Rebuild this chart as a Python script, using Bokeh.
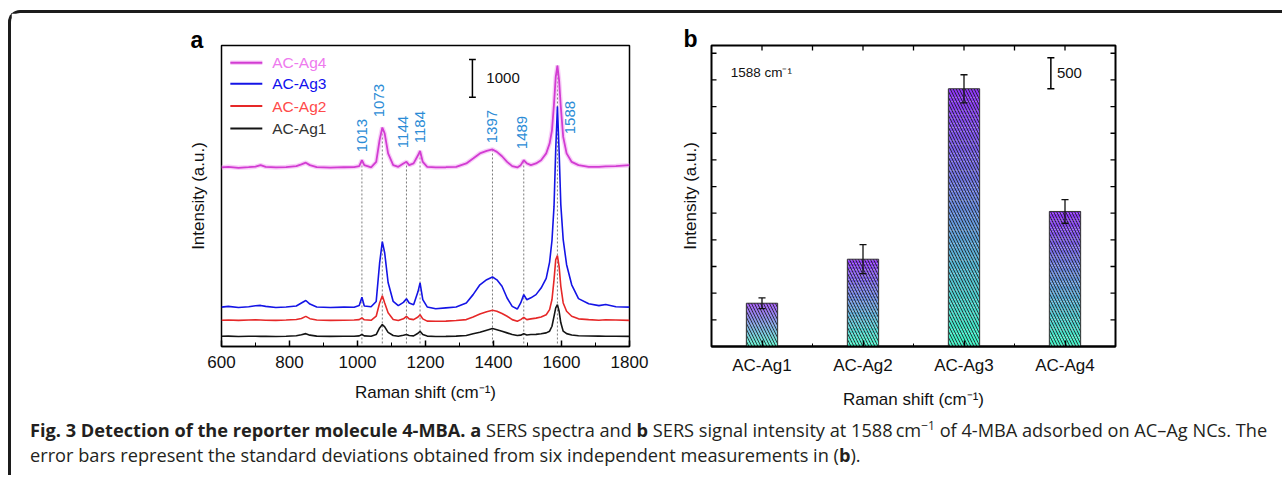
import numpy as np
from bokeh.plotting import figure
from bokeh.models import Range1d, FixedTicker, Div
from bokeh.layouts import row, column
from bokeh.embed import file_html
from bokeh.resources import INLINE
from bokeh.core.properties import value

# ---------------- data: panel a (SERS spectra, stacked as plotted) ----------------
raman_shift = [600, 620, 650, 680, 700, 715, 730, 760, 790, 820, 835, 848, 860, 880, 920,
               960, 990, 1005, 1013, 1020, 1040, 1055, 1065, 1073, 1080, 1090, 1105, 1120,
               1135, 1144, 1152, 1165, 1178, 1184, 1192, 1205, 1230, 1260, 1290, 1320, 1340,
               1360, 1380, 1397, 1410, 1425, 1440, 1455, 1470, 1480, 1489, 1498, 1510, 1525,
               1540, 1555, 1565, 1572, 1578, 1583, 1588, 1593, 1598, 1605, 1615, 1630, 1650,
               1680, 1710, 1730, 1760, 1800]

ac_ag1 = [270, 275, 265, 270, 272, 268, 270, 265, 270, 285, 310, 340, 300, 275, 268,
          270, 272, 280, 315, 280, 272, 315, 490, 580, 520, 375, 290, 272,
          295, 315, 290, 280, 350, 400, 315, 275, 265, 268, 275, 290, 335,
          375, 430, 475, 445, 405, 360, 315, 290, 300, 335, 305, 315, 320,
          335, 360, 405, 535, 795, 1020, 1105, 930, 625, 405, 340, 305, 285,
          278, 275, 272, 270, 268]

ac_ag2 = [695, 700, 690, 700, 705, 700, 695, 690, 700, 715, 740, 795, 735, 700, 690,
          695, 700, 710, 755, 705, 692, 800, 1150, 1340, 1150, 890, 715, 685,
          730, 795, 730, 710, 780, 840, 730, 670, 665, 670, 685, 710, 780,
          860, 920, 955, 930, 870, 800, 710, 665, 710, 770, 710, 730, 750,
          780, 840, 975, 1240, 1760, 2290, 2400, 2110, 1590, 1150, 930, 800, 730,
          710, 695, 705, 700, 690]

ac_ag3 = [1040, 1060, 1030, 1050, 1075, 1085, 1060, 1030, 1045, 1070, 1150, 1215, 1120, 1045, 1030,
          1040, 1035, 1080, 1300, 1070, 1050, 1190, 2200, 2770, 2470, 1690, 1190, 1080,
          1165, 1260, 1150, 1105, 1450, 1680, 1240, 1045, 995, 1020, 1045, 1150, 1370,
          1630, 1765, 1835, 1760, 1590, 1280, 1060, 990, 1150, 1370, 1235, 1285, 1370,
          1545, 1800, 2230, 2800, 3700, 5200, 6340, 5150, 3740, 2820, 2160, 1630, 1265,
          1130, 1080, 1110, 1050, 1040]

ac_ag4 = [4730, 4745, 4720, 4735, 4750, 4790, 4745, 4730, 4740, 4765, 4810, 4855, 4790, 4740, 4725,
          4735, 4740, 4765, 4920, 4790, 4730, 4875, 5450, 5785, 5625, 5100, 4790, 4745,
          4835, 4880, 4790, 4835, 5050, 5165, 4875, 4745, 4730, 4735, 4745, 4835, 4965,
          5100, 5165, 5205, 5140, 5025, 4875, 4765, 4730, 4790, 4920, 4835, 4790, 4835,
          4920, 5100, 5360, 5710, 6415, 7115, 7420, 7025, 6325, 5535, 5100, 4875, 4790,
          4745, 4745, 4755, 4765, 4790]

series_names = ["AC-Ag4", "AC-Ag3", "AC-Ag2", "AC-Ag1"]
peak_positions = [1013, 1073, 1144, 1184, 1397, 1489, 1588]
peak_labels = ["1013", "1073", "1144", "1184", "1397", "1489", "1588"]
scale_a = 1000

# ---------------- data: panel b (intensity at 1588 cm-1) ----------------
samples = ["AC-Ag1", "AC-Ag2", "AC-Ag3", "AC-Ag4"]
intensity_1588 = [698, 1408, 4157, 2178]
intensity_sd = [86, 234, 226, 190]
scale_b = 500

# ---------------- styles ----------------
FONT = "Liberation Sans"
line_colors = {"AC-Ag4": "#d23cd2", "AC-Ag3": "#1414e6", "AC-Ag2": "#e62828", "AC-Ag1": "#141414"}
text_colors = {"AC-Ag4": "#ee7aee", "AC-Ag3": "#1010ee", "AC-Ag2": "#ff4a4a", "AC-Ag1": "#333333"}
peak_color = "#2b8cd6"
SUP = "Raman shift (cm\u207b\u00b9)"


def style_title(p, letter, offset, standoff):
    p.title.text = letter
    p.title.align = "left"
    p.title.offset = offset
    p.title.text_font = FONT
    p.title.text_font_size = "23px"
    p.title.text_font_style = "bold"
    p.title.text_color = "black"
    p.title.standoff = standoff


# ======================= panel a =======================
pa = figure(width=650, height=400, x_range=Range1d(600, 1800), y_range=Range1d(0, 7950),
            output_backend="svg", toolbar_location=None,
            min_border_left=210, min_border_right=32, min_border_top=32, min_border_bottom=66)
pa.grid.visible = False
pa.outline_line_color = "black"
pa.outline_line_width = 1.5
pa.outline_line_alpha = 1.0
style_title(pa, "a", -31, -14)

xa = pa.xaxis[0]
xa.ticker = FixedTicker(ticks=list(range(600, 1801, 200)), minor_ticks=list(range(700, 1800, 200)))
xa.major_tick_in = 6
xa.major_tick_out = 0
xa.minor_tick_in = 4
xa.minor_tick_out = 0
xa.axis_line_width = 1.5
xa.major_tick_line_width = 1.5
xa.major_label_text_font = FONT
xa.major_label_text_font_size = "17px"
xa.major_label_text_color = "#111111"
xa.major_label_standoff = 9
xa.axis_label = SUP
xa.axis_label_text_font = FONT
xa.axis_label_text_font_size = "17px"
xa.axis_label_text_font_style = "normal"
xa.axis_label_text_color = "#111111"
xa.axis_label_standoff = 12

ya = pa.yaxis[0]
ya.ticker = FixedTicker(ticks=[])
ya.axis_line_color = None
ya.major_tick_line_color = None
ya.minor_tick_line_color = None
ya.axis_label = "Intensity (a.u.)"
ya.axis_label_text_font = FONT
ya.axis_label_text_font_size = "17px"
ya.axis_label_text_font_style = "normal"
ya.axis_label_text_color = "#111111"
ya.axis_label_standoff = 14

# vertical dotted guide lines up to the AC-Ag4 peaks
guide_tops = [ac_ag4[raman_shift.index(p)] for p in peak_positions]
pa.segment(x0=peak_positions, y0=[80] * len(peak_positions), x1=peak_positions, y1=guide_tops,
           line_color="#7a7a7a", line_width=1, line_dash="2 2")

series = {"AC-Ag4": ac_ag4, "AC-Ag3": ac_ag3, "AC-Ag2": ac_ag2, "AC-Ag1": ac_ag1}
# soft pink halo under the AC-Ag4 trace
pa.line(raman_shift, ac_ag4, line_color="#f2a6f2", line_width=4.5, line_alpha=0.55)
for name in series_names:
    pa.line(raman_shift, series[name], line_color=line_colors[name],
            line_width=1.8 if name == "AC-Ag4" else 1.6)

# peak labels (rotated)
label_x = [1014, 1062, 1134, 1185, 1396, 1485, 1624]
label_y = [5132, 6054, 5238, 5369, 5369, 5211, 5606]
pa.text(x=label_x, y=label_y, text=peak_labels, angle=np.pi / 2, text_align="left",
        text_baseline="middle", text_color=peak_color, text_font=value(FONT),
        text_font_size="15px")

# legend (manual, coloured texts)
leg_y = [7493, 6941, 6351, 5756]
pa.segment(x0=[626], y0=[leg_y[0]], x1=[720], y1=[leg_y[0]], line_color="#f2a6f2",
           line_width=4.5, line_alpha=0.55)
pa.segment(x0=[626] * 4, y0=leg_y, x1=[720] * 4, y1=leg_y,
           line_color=[line_colors[n] for n in series_names], line_width=2)
pa.text(x=[749] * 4, y=leg_y, text=series_names, text_align="left", text_baseline="middle",
        text_color=[text_colors[n] for n in series_names], text_font=value(FONT),
        text_font_size="15.5px")

# 1000 scale bar
sb_y0, sb_y1 = 6580, 6580 + scale_a
pa.segment(x0=[1338], y0=[sb_y0], x1=[1338], y1=[sb_y1], line_color="black", line_width=1.5)
pa.segment(x0=[1328, 1328], y0=[sb_y0, sb_y1], x1=[1348, 1348], y1=[sb_y0, sb_y1],
           line_color="black", line_width=1.5)
pa.text(x=[1379], y=[(sb_y0 + sb_y1) / 2], text=[str(scale_a)], text_font=value(FONT),
        text_font_size="15px", text_baseline="middle", text_color="#111111")

# ======================= panel b =======================
Y1 = 4855
pb = figure(width=610, height=400, x_range=Range1d(0.5, 4.5), y_range=Range1d(0, Y1),
            output_backend="svg", toolbar_location=None,
            min_border_left=50, min_border_right=156, min_border_top=32, min_border_bottom=67)
pb.grid.visible = False
pb.outline_line_color = "black"
pb.outline_line_width = 2
pb.outline_line_alpha = 1.0
style_title(pb, "b", -28, -12)
xpos = [i + 1 for i in range(len(samples))]

xb = pb.xaxis[0]
xb.ticker = FixedTicker(ticks=xpos, minor_ticks=[x + 0.5 for x in xpos[:-1]])
xb.major_label_overrides = {x: s for x, s in zip(xpos, samples)}
xb.major_tick_in = 6
xb.major_tick_out = 0
xb.minor_tick_in = 3
xb.minor_tick_out = 0
xb.axis_line_width = 2
xb.major_tick_line_width = 1.5
xb.major_label_text_font = FONT
xb.major_label_text_font_size = "17px"
xb.major_label_text_color = "#111111"
xb.major_label_standoff = 9
xb.axis_label = SUP
xb.axis_label_text_font = FONT
xb.axis_label_text_font_size = "17px"
xb.axis_label_text_font_style = "normal"
xb.axis_label_text_color = "#111111"
xb.axis_label_standoff = 12

yb = pb.yaxis[0]
yb.ticker = FixedTicker(ticks=[])
yb.axis_line_color = None
yb.major_tick_line_color = None
yb.minor_tick_line_color = None
yb.axis_label = "Intensity (a.u.)"
yb.axis_label_text_font = FONT
yb.axis_label_text_font_size = "17px"
yb.axis_label_text_font_style = "normal"
yb.axis_label_text_color = "#111111"
yb.axis_label_standoff = 12

# inward tick marks on left, right and top edges
ytick_vals = list(range(430, Y1, 430))
tx = 5 / 101.0         # 5 px in x units
ty = 5 * Y1 / 301.0    # 5 px in y units
pb.segment(x0=[0.5] * len(ytick_vals), y0=ytick_vals, x1=[0.5 + tx] * len(ytick_vals),
           y1=ytick_vals, line_color="black", line_width=1.3)
pb.segment(x0=[4.5] * len(ytick_vals), y0=ytick_vals, x1=[4.5 - tx] * len(ytick_vals),
           y1=ytick_vals, line_color="black", line_width=1.3)
top_ticks = [1, 1.5, 2, 2.5, 3, 3.5, 4]
pb.segment(x0=top_ticks, y0=[Y1] * len(top_ticks), x1=top_ticks, y1=[Y1 - ty] * len(top_ticks),
           line_color="black", line_width=1.3)

# gradient-filled bars (purple top -> aquamarine bottom) with diagonal hatch
bw = 0.31
top_rgb = np.array([0x8e, 0x34, 0xf4])
bot_rgb = np.array([0x40, 0xf4, 0xc4])
N = 60
for xc, h in zip(xpos, intensity_1588):
    fr = np.arange(N) / N
    bottoms = h * fr
    tops = h * (fr + 1.0 / N)
    cols = []
    for f in fr + 0.5 / N:
        c = bot_rgb + (top_rgb - bot_rgb) * f
        cols.append("#%02x%02x%02x" % tuple(int(round(v)) for v in c))
    pb.quad(left=[xc - bw / 2] * N, right=[xc + bw / 2] * N, bottom=bottoms, top=tops,
            fill_color=cols, line_color=None)
pb.quad(left=[x - bw / 2 for x in xpos], right=[x + bw / 2 for x in xpos],
        bottom=[0] * len(xpos), top=intensity_1588, fill_color=None,
        hatch_pattern="left_diagonal_line", hatch_color="#151515", hatch_scale=6,
        hatch_weight=0.9, hatch_alpha=0.9, line_color="#333333", line_width=1)

# error bars
lo = [v - e for v, e in zip(intensity_1588, intensity_sd)]
hi = [v + e for v, e in zip(intensity_1588, intensity_sd)]
cw = 0.035
pb.segment(x0=xpos, y0=lo, x1=xpos, y1=hi, line_color="#111111", line_width=1.3)
pb.segment(x0=[x - cw for x in xpos], y0=hi, x1=[x + cw for x in xpos], y1=hi,
           line_color="#111111", line_width=1.3)
pb.segment(x0=[x - cw for x in xpos], y0=lo, x1=[x + cw for x in xpos], y1=lo,
           line_color="#111111", line_width=1.3)

# 500 scale bar
sbb0, sbb1 = 4157, 4157 + scale_b
pb.segment(x0=[3.86], y0=[sbb0], x1=[3.86], y1=[sbb1], line_color="black", line_width=1.5)
pb.segment(x0=[3.825, 3.825], y0=[sbb0, sbb1], x1=[3.895, 3.895], y1=[sbb0, sbb1],
           line_color="black", line_width=1.5)
pb.text(x=[3.92], y=[(sbb0 + sbb1) / 2], text=[str(scale_b)], text_font=value(FONT),
        text_font_size="15px", text_baseline="middle", text_color="#111111")
pb.text(x=[0.69], y=[4425], text=["1588 cm\u207b\u00b9"], text_font=value(FONT),
        text_font_size="13.5px", text_baseline="middle", text_color="#111111")

# ======================= caption =======================
cap_html = (
    '<div style="font-family:\'Open Sans\';font-size:18.2px;line-height:25px;'
    'margin-top:0px;padding:0 0 0 14px;white-space:nowrap;color:#231f20;">'
    '<b>Fig. 3 Detection of the reporter molecule 4-MBA.</b> <b>a</b> SERS spectra and '
    '<b>b</b> SERS signal intensity at 1588&#8201;cm<sup style="font-size:12px;line-height:0">&minus;1</sup> '
    'of 4-MBA adsorbed on AC&ndash;Ag NCs. The<br>'
    'error bars represent the standard deviations obtained from six independent '
    'measurements in (<b>b</b>).</div>'
)
cap = Div(text=cap_html, width=1271, height=52)

root = column(row(pa, pb), cap, margin=(10, 0, 0, 8),
              styles={"border-top": "3px solid #1c1c1c", "border-left": "3px solid #1c1c1c",
                      "border-top-left-radius": "12px"})

open("out.html", "w").write(file_html(root, INLINE))
